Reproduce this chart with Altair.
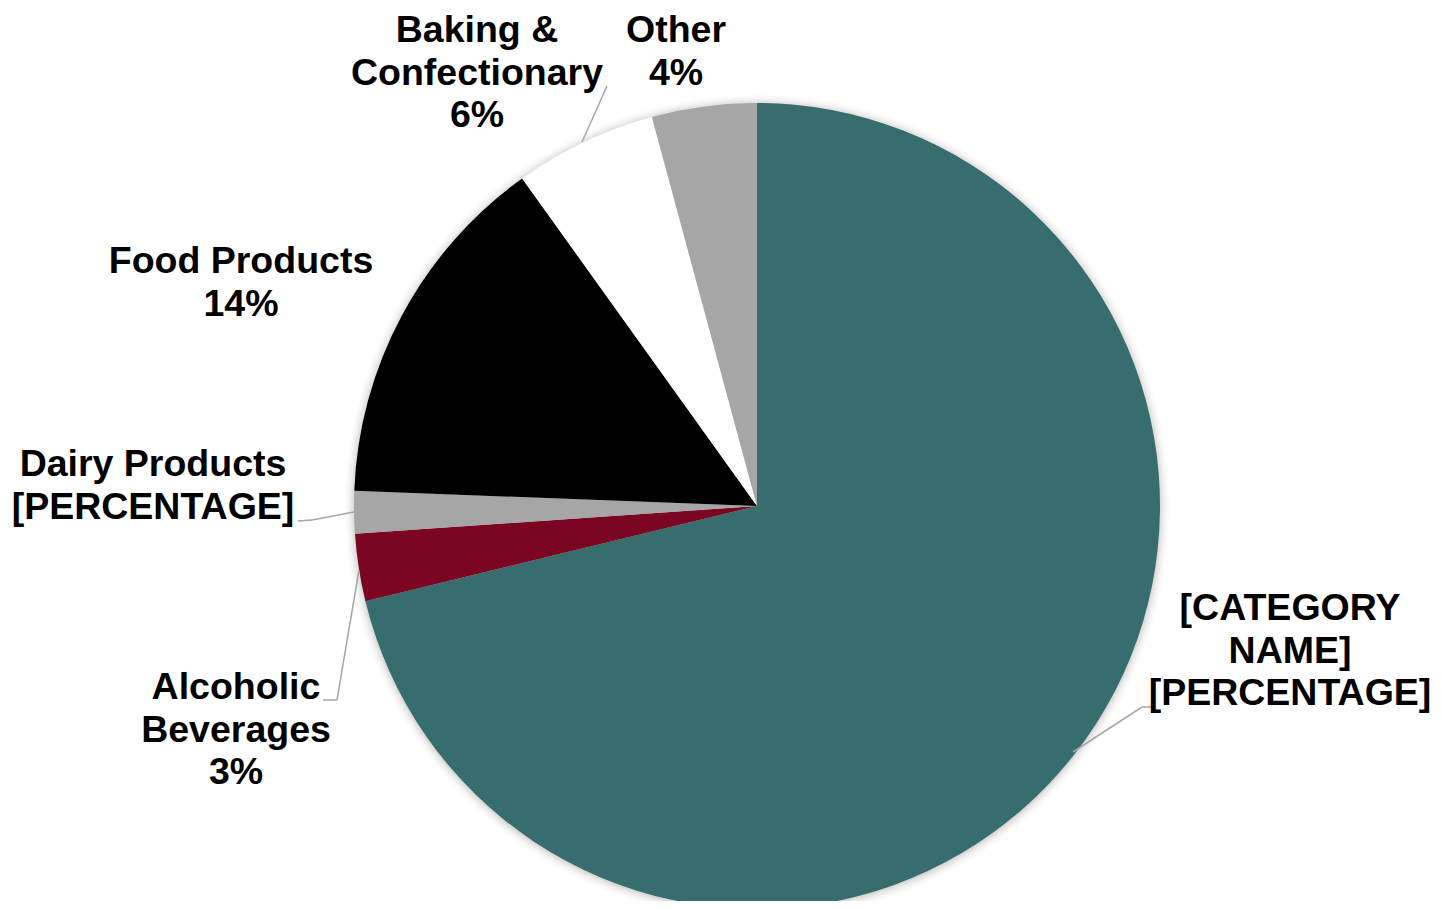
import altair as alt
import pandas as pd

categories = ["[CATEGORY NAME]", "Alcoholic Beverages", "Dairy Products",
              "Food Products", "Baking & Confectionary", "Other"]
values = [71.2, 2.7, 1.7, 14.5, 5.7, 4.2]
labels = ["[CATEGORY\nNAME]\n[PERCENTAGE]", "Alcoholic\nBeverages\n3%",
          "Dairy Products\n[PERCENTAGE]", "Food Products\n14%",
          "Baking &\nConfectionary\n6%", "Other\n4%"]
colors = ["#376D6F", "#7A0622", "#A6A6A6", "#000000", "#FFFFFF", "#A6A6A6"]

df = pd.DataFrame({"category": categories, "value": values, "label": labels,
                   "idx": list(range(len(categories)))})

W, H = 1425, 893
CX, CY, R = 749, 498, 403
FONT = "Liberation Sans"

base = alt.Chart(df)

# soft shadow around the pie
shadow_layers = []
for i, op in enumerate([0.05, 0.04, 0.03, 0.02, 0.015]):
    shadow_layers.append(
        alt.Chart(pd.DataFrame({"a": [1]})).mark_arc(
            theta=0, theta2=6.2832, outerRadius=R + 1 + 2 * i, color="#000000",
            opacity=op
        ).encode(x=alt.value(CX), y=alt.value(CY + 1))
    )

pie = base.mark_arc(outerRadius=R, strokeWidth=0).encode(
    theta=alt.Theta("value:Q", stack=True),
    color=alt.Color("category:N", scale=alt.Scale(domain=categories, range=colors), legend=None),
    order=alt.Order("idx:Q"),
    x=alt.value(CX), y=alt.value(CY),
)

# position of the first text line's centre (chart pixels)
label_pos = {
    "[CATEGORY NAME]": (1282, 601),
    "Alcoholic Beverages": (228, 680),
    "Dairy Products": (145, 457),
    "Food Products": (233, 254),
    "Baking & Confectionary": (469, 23),
    "Other": (668, 23),
}

text_layers = []
for cat in categories:
    lx, ly = label_pos[cat]
    text_layers.append(
        base.transform_filter(alt.datum.category == cat).mark_text(
            font=FONT, fontSize=37.5, fontWeight="bold", color="#000000",
            align="center", baseline="middle", lineBreak="\n", lineHeight=42.5
        ).encode(text="label:N", x=alt.value(lx), y=alt.value(ly))
    )

# leader lines (x, y, x2, y2 in chart pixels)
leaders = [
    (599, 78, 574, 134),     # Baking
    (290, 513, 304, 512),    # Dairy horizontal
    (304, 512, 346, 504),    # Dairy to slice
    (315, 692, 329, 692),    # Alcoholic horizontal
    (329, 692, 351, 562),    # Alcoholic to slice
    (1134, 699, 1144, 699),  # Teal horizontal
    (1134, 699, 1065, 744),  # Teal to slice
]
rule_layers = []
for (x1, y1, x2, y2) in leaders:
    rule_layers.append(
        alt.Chart(pd.DataFrame({"a": [1]})).mark_rule(color="#A6A6A6", strokeWidth=1.5).encode(
            x=alt.value(x1), y=alt.value(y1), x2=alt.value(x2), y2=alt.value(y2)
        )
    )

chart = alt.layer(*shadow_layers, pie, *rule_layers, *text_layers).properties(
    width=W, height=H, padding=0, background="#FFFFFF",
    autosize=alt.AutoSizeParams(type="none")
).configure_view(strokeWidth=0, stroke="transparent")

chart.save("out.html", embed_options={"renderer": "svg", "actions": False})
